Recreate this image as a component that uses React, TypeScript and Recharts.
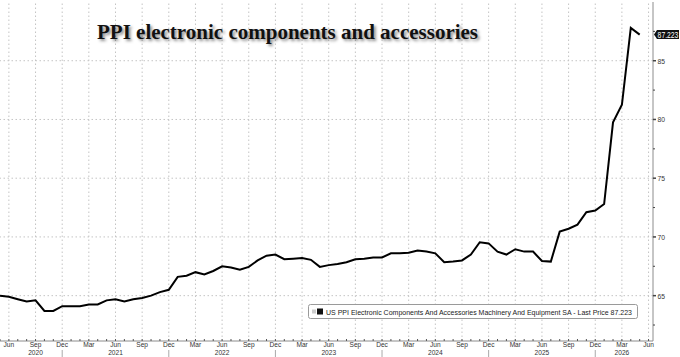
import { LineChart, Line, XAxis, YAxis, ReferenceLine, ReferenceDot, Legend } from 'recharts';

// Monthly series, first point May 2020
const startMonth = 4; // 0 = Jan
const monthNames = ['Jan', 'Feb', 'Mar', 'Apr', 'May', 'Jun', 'Jul', 'Aug', 'Sep', 'Oct', 'Nov', 'Dec'];

const values2020 = [65.0, 64.9, 64.7, 64.5, 64.6, 63.7, 63.7, 64.1]; // May-Dec
const values2021 = [64.1, 64.1, 64.25, 64.25, 64.6, 64.7, 64.5, 64.7, 64.8, 65.0, 65.3, 65.5];
const values2022 = [66.6, 66.7, 67.0, 66.8, 67.1, 67.5, 67.4, 67.2, 67.45, 68.0, 68.4, 68.5];
const values2023 = [68.1, 68.15, 68.2, 68.05, 67.45, 67.6, 67.7, 67.85, 68.1, 68.15, 68.25, 68.25];
const values2024 = [68.6, 68.6, 68.65, 68.85, 68.75, 68.6, 67.85, 67.9, 68.0, 68.5, 69.55, 69.45];
const values2025 = [68.75, 68.5, 68.95, 68.75, 68.75, 67.95, 67.9, 70.45, 70.7, 71.05, 72.1, 72.25];
const values2026 = [72.8, 79.75, 81.25, 87.8, 87.223]; // Jan-May

const values = [...values2020, ...values2021, ...values2022, ...values2023, ...values2024, ...values2025, ...values2026];
const lastPrice = 87.223;

// year captions, placed under the month index they sit beneath
const yearLabels = [
  { label: '2020', at: 4 },
  { label: '2021', at: 13 },
  { label: '2022', at: 25 },
  { label: '2023', at: 37 },
  { label: '2024', at: 49 },
  { label: '2025', at: 61 },
  { label: '2026', at: 70 },
];

const yTicks = [62.5, 65, 67.5, 70, 72.5, 75, 77.5, 80, 82.5, 85, 87.5];
const yMajor = [65, 70, 75, 80, 85];

const legendText = 'US PPI Electronic Components And Accessories Machinery And Equipment SA - Last Price 87.223';

const data = values.map((v, i) => ({ i, v }));
const monthTicks = Array.from({ length: values.length + 1 }, (_, i) => i);
const quarterTicks = monthTicks.filter(i => (startMonth + i) % 12 % 3 === 2);

const axisFont = { fontFamily: 'Liberation Sans, Arial, sans-serif', fontSize: 7.5, fill: '#333' };
const grid = { stroke: '#c4c4c4', strokeDasharray: '1.5 2.5', strokeWidth: 1 };

function XTick(props: any) {
  const { x, y, payload } = props;
  const i = payload.value;
  const m = (startMonth + i) % 12;
  const year = yearLabels.find(d => d.at === i);
  return (
    <g>
      <line x1={x} x2={x} y1={y - 2} y2={y} stroke="#555" />
      {m % 3 === 2 && (
        <text transform={`translate(${x},${y + 6.2}) scale(0.88,1)`} textAnchor="middle" {...axisFont}>
          {monthNames[m]}
        </text>
      )}
      {m === 11 && <line x1={x} x2={x} y1={y + 9} y2={y + 16} stroke="#aaa" />}
      {year && (
        <text transform={`translate(${x},${y + 14.3}) scale(0.88,1)`} textAnchor="middle" {...axisFont}>
          {year.label}
        </text>
      )}
    </g>
  );
}

function YTick(props: any) {
  const { x, y, payload } = props;
  const major = yMajor.includes(payload.value);
  return (
    <g>
      <line x1={x} x2={x + (major ? 3 : 2)} y1={y} y2={y} stroke="#444" strokeWidth={major ? 1.5 : 1} />
      {major && (
        <text transform={`translate(${x + 4.5},${y + 3}) scale(0.9,1)`} {...axisFont}>
          {payload.value}
        </text>
      )}
    </g>
  );
}

function PriceTag(props: any) {
  const { cx, cy } = props;
  return (
    <g>
      <path
        d={`M${cx + 1},${cy} L${cx + 4},${cy - 4.5} L${cx + 26},${cy - 4.5} L${cx + 26},${cy + 4.5} L${cx + 4},${cy + 4.5} Z`}
        fill="#111"
      />
      <text transform={`translate(${cx + 15},${cy + 3}) scale(0.8,1)`} textAnchor="middle" fontFamily="Liberation Sans, Arial, sans-serif" fontSize={8.5} fill="#fff">
        {lastPrice}
      </text>
    </g>
  );
}

function LegendBox() {
  return (
    <svg width={331} height={16}>
      <rect x={0.5} y={0.5} width={329} height={14} rx={2} fill="#fff" stroke="#9a9a9a" />
      <rect x={4} y={5.5} width={4} height={4} fill="#ccc" />
      <rect x={9} y={4.5} width={6} height={6} fill="#111" />
      <text x={18} y={10.5} fontFamily="Liberation Sans, Arial, sans-serif" fontSize={7.2} fill="#222" textLength={306} lengthAdjust="spacingAndGlyphs">
        {legendText}
      </text>
    </svg>
  );
}

export default function App() {
  return (
    <div style={{ position: 'absolute', left: 0, top: 0, width: 680, height: 357, background: '#fff' }}>
      <LineChart width={680} height={357} data={data} margin={{ top: 2, right: 0, bottom: 0, left: 0 }}>
        {quarterTicks.map(t => (
          <ReferenceLine key={'vx' + t} x={t} {...grid} />
        ))}
        {yMajor.map(t => (
          <ReferenceLine key={'hy' + t} y={t} {...grid} />
        ))}
        <XAxis
          type="number"
          dataKey="i"
          domain={[0, 73.5]}
          allowDataOverflow
          ticks={monthTicks}
          interval={0}
          tick={<XTick />}
          tickLine={false}
          tickSize={0}
          tickMargin={0}
          height={16}
          axisLine={{ stroke: '#8c8c8c' }}
        />
        <YAxis
          orientation="right"
          domain={[61.14, 90]}
          allowDataOverflow
          ticks={yTicks}
          interval={0}
          tick={<YTick />}
          tickLine={false}
          tickSize={0}
          tickMargin={0}
          width={27}
          axisLine={{ stroke: '#8c8c8c' }}
        />
        <Line
          type="linear"
          dataKey="v"
          stroke="#000"
          strokeWidth={2}
          dot={false}
          isAnimationActive={false}
        />
        <ReferenceDot x={73.5} y={lastPrice} r={0} ifOverflow="visible" shape={<PriceTag />} />
        <Legend
          layout="vertical"
          align="center"
          verticalAlign="middle"
          content={() => <LegendBox />}
          wrapperStyle={{ left: 308, top: 304, width: 331, height: 16 }}
        />
      </LineChart>
      <div
        style={{
          position: 'absolute',
          left: 97,
          top: 22,
          fontFamily: 'Liberation Serif, "Times New Roman", serif',
          fontWeight: 'bold',
          fontSize: 21,
          lineHeight: '21px',
          color: '#111',
          whiteSpace: 'nowrap',
          textShadow: '2px 2px 3px rgba(0,0,0,0.45)',
        }}
      >
        PPI electronic components and accessories
      </div>
    </div>
  );
}
